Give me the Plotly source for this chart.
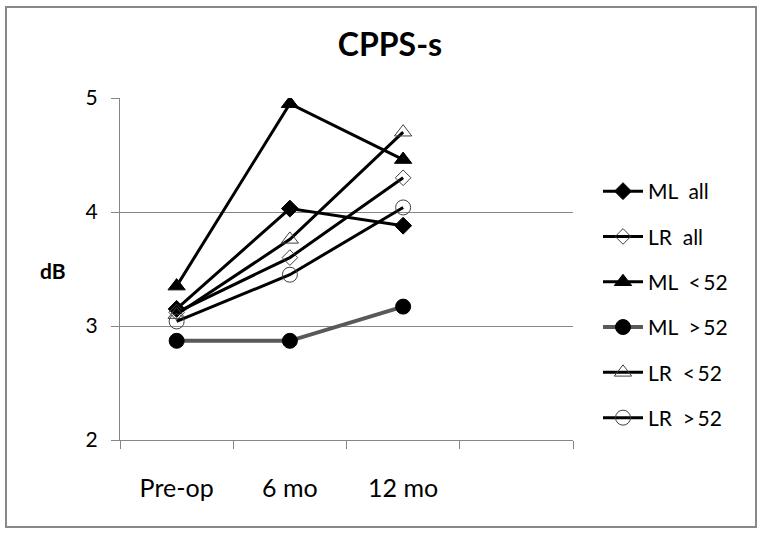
import plotly.graph_objects as go

# category labels (a fourth empty slot exists on the axis, as in the original)
categories = ["Pre-op", "6 mo", "12 mo"]
n_slots = 4

ml_all = [3.15, 4.03, 3.88]
lr_all = [3.12, 3.60, 4.30]
ml_lt52 = [3.35, 4.95, 4.46]
ml_gt52 = [2.87, 2.87, 3.17]
lr_lt52 = [3.10, 3.76, 4.70]
lr_gt52 = [3.04, 3.45, 4.04]

y_ticks = [2, 3, 4, 5]

NB = "\u00a0"
TH = "\u2009"
series = [
    ("ML" + NB * 2 + "all", ml_all, "diamond", 13, "black", 3),
    ("LR" + NB * 2 + "all", lr_all, "diamond-open", 12, "black", 3),
    ("ML" + NB * 2 + "<" + TH + "52", ml_lt52, "triangle-up", 15, "black", 3),
    ("ML" + NB * 2 + ">" + TH + "52", ml_gt52, "circle", 15, "#595959", 4),
    ("LR" + NB * 2 + "<" + TH + "52", lr_lt52, "triangle-up-open", 15, "black", 3),
    ("LR" + NB * 2 + ">" + TH + "52", lr_gt52, "circle-open", 15, "black", 3),
]

x_pos = [i + 0.5 for i in range(len(categories))]

fig = go.Figure()
for i, (name, vals, sym, size, lcolor, lw) in enumerate(series):
    open_marker = sym.endswith("-open")
    fig.add_trace(
        go.Scatter(
            x=x_pos,
            y=vals,
            mode="lines+markers",
            name=name,
            legendgroup=f"g{i}",
            line=dict(color=lcolor, width=lw),
            marker=dict(
                symbol=sym,
                size=size,
                color="#404040" if open_marker else "black",
                line=dict(width=1, color="#404040" if open_marker else "black"),
            ),
        )
    )

L, R, T, B = 120, 190, 98, 95
W, H = 763, 535
pw, ph = W - L - R, H - T - B

grid_col = "#868686"
font_fam = "Lato, Open Sans, sans-serif"

fig.update_layout(
    width=W,
    height=H,
    margin=dict(l=L, r=R, t=T, b=B),
    paper_bgcolor="white",
    plot_bgcolor="white",
    font=dict(family=font_fam, color="black", size=20),
    title=dict(
        text="<b>CPPS-s</b>",
        x=390 / W,
        xanchor="center",
        y=1 - 45 / H,
        yanchor="middle",
        font=dict(size=32, family=font_fam, color="black"),
    ),
    showlegend=True,
    legend=dict(
        x=(598 - L) / pw,
        xanchor="left",
        y=(440 - 171) / ph,
        yanchor="top",
        font=dict(size=21, family=font_fam, color="black"),
        tracegroupgap=15,
        itemwidth=40,
        bgcolor="rgba(0,0,0,0)",
    ),
    xaxis=dict(
        range=[0, n_slots],
        tickmode="array",
        tickvals=x_pos,
        ticktext=categories,
        ticks="",
        showgrid=False,
        showline=True,
        linecolor=grid_col,
        linewidth=1,
        zeroline=False,
        tickfont=dict(size=25),
        ticklabelstandoff=26,
        minor=dict(
            tickmode="array",
            tickvals=list(range(n_slots + 1)),
            ticks="outside",
            ticklen=8,
            tickcolor=grid_col,
            showgrid=False,
        ),
    ),
    yaxis=dict(
        range=[2, 5],
        tickmode="array",
        tickvals=y_ticks,
        ticks="outside",
        ticklen=8,
        tickcolor=grid_col,
        showgrid=True,
        gridcolor=grid_col,
        gridwidth=1,
        showline=True,
        linecolor=grid_col,
        zeroline=False,
        tickfont=dict(size=21),
        ticklabelstandoff=9,
    ),
    annotations=[
        dict(
            text="<b>dB</b>",
            xref="paper",
            yref="paper",
            x=(53 - L) / pw,
            y=(440 - 270) / ph,
            xanchor="center",
            yanchor="middle",
            showarrow=False,
            font=dict(size=21, family=font_fam, color="black"),
        )
    ],
    shapes=[
        dict(
            type="rect",
            xref="paper",
            yref="paper",
            x0=(6 - L) / pw,
            x1=(756 - L) / pw,
            y0=(440 - 527) / ph,
            y1=(440 - 7) / ph,
            line=dict(color="#888888", width=2),
            fillcolor="rgba(0,0,0,0)",
            layer="below",
        )
    ],
)

# the page's default body margin would shift the whole chart by 8px
fig.write_html(
    "out.html",
    config={"displayModeBar": False},
    post_script="document.body.style.margin='0';",
)
